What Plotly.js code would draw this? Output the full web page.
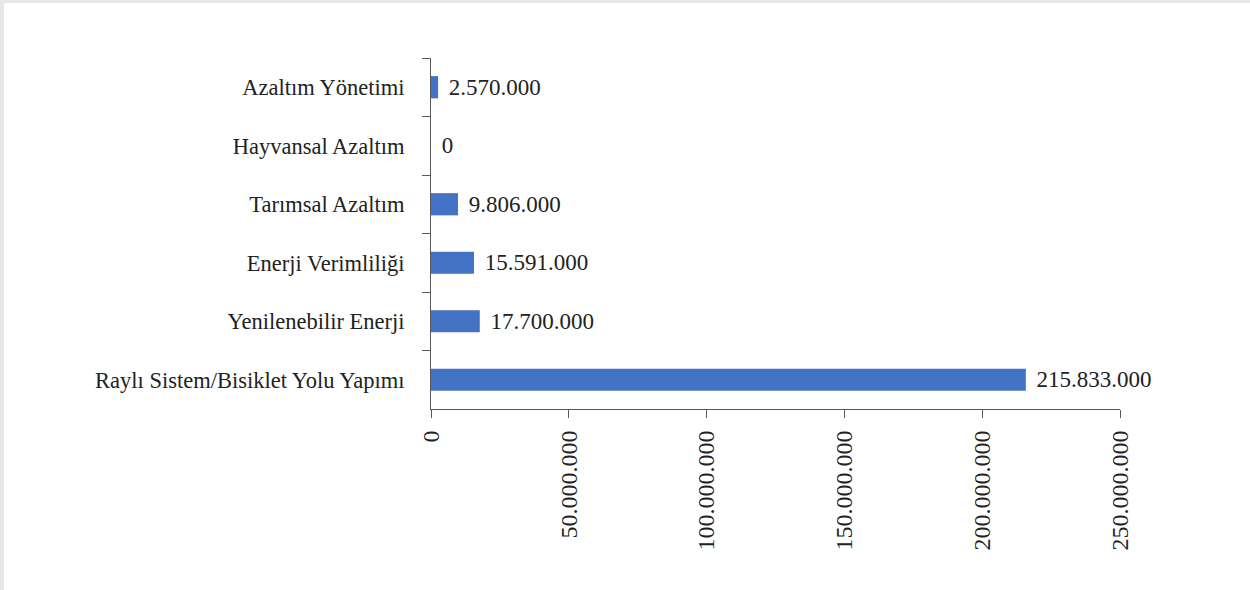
<!DOCTYPE html>
<html>
<head>
<meta charset="utf-8">
<script src="https://cdn.plot.ly/plotly-3.0.1.min.js"></script>
<style>
  html, body { margin: 0; padding: 0; background: #e6e7e9; width: 1250px; height: 590px; overflow: hidden; }
  #chart { position: absolute; left: 4px; top: 3px; width: 1246px; height: 587px; background: #fff; }
</style>
</head>
<body>
<div id="chart"></div>
<script>
const categories = [
  "Azaltım Yönetimi",
  "Hayvansal Azaltım",
  "Tarımsal Azaltım",
  "Enerji Verimliliği",
  "Yenilenebilir Enerji",
  "Raylı Sistem/Bisiklet Yolu Yapımı"
];
const values = [2570000, 0, 9806000, 15591000, 17700000, 215833000];
const tickValues = [0, 50000000, 100000000, 150000000, 200000000, 250000000];

const fontFamily = '"Liberation Serif", "DejaVu Serif", serif';

const trace = {
  type: 'bar',
  orientation: 'h',
  y: categories,
  x: values,
  marker: { color: '#4472C4' },
  text: values.map(v => '\u2004' + v.toLocaleString('de-DE')),
  textposition: 'outside',
  constraintext: 'none',
  textfont: { family: fontFamily, size: 23, color: '#222' },
  cliponaxis: false,
  hoverinfo: 'x+y'
};

const layout = {
  width: 1246,
  height: 587,
  margin: { l: 427, r: 130, t: 55, b: 181 },
  paper_bgcolor: '#ffffff',
  plot_bgcolor: '#ffffff',
  separators: ',.',
  showlegend: false,
  bargap: 0.62,
  font: { family: fontFamily, size: 22, color: '#222' },
  xaxis: {
    range: [0, 250000000],
    tickvals: tickValues,
    tickformat: ',d',
    tickangle: -90,
    showgrid: false,
    zeroline: false,
    showline: true,
    linecolor: '#595959',
    linewidth: 1,
    ticks: 'outside',
    ticklen: 8,
    tickcolor: '#595959',
    ticklabelstandoff: 3,
    tickfont: { family: fontFamily, size: 24, color: '#222' },
    fixedrange: true
  },
  yaxis: {
    type: 'category',
    autorange: 'reversed',
    showgrid: false,
    zeroline: false,
    showline: true,
    linecolor: '#595959',
    linewidth: 1,
    ticks: 'outside',
    tickson: 'boundaries',
    ticklen: 8,
    tickcolor: '#595959',
    ticklabelstandoff: 21,
    tickfont: { family: fontFamily, size: 22.5, color: '#222' },
    fixedrange: true
  }
};

Plotly.newPlot('chart', [trace], layout, { displayModeBar: false, staticPlot: true });
</script>
</body>
</html>
